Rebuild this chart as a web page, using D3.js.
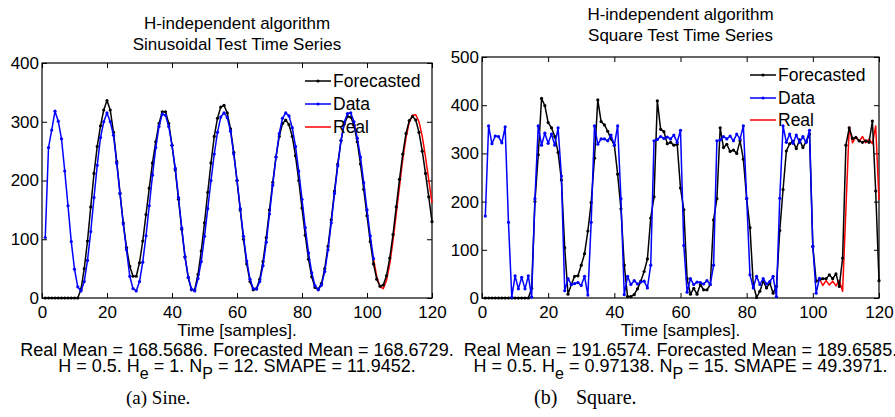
<!DOCTYPE html>
<html>
<head>
<meta charset="utf-8">
<script src="https://cdn.jsdelivr.net/npm/d3@7"></script>
<style>
  body { margin: 0; background: #fff; }
  svg text { font-family: "Liberation Sans", Arial, Helvetica, sans-serif; fill: #000; }
  .caption { font-family: "Liberation Serif", "Times New Roman", serif; }
</style>
</head>
<body>
<svg id="viz" width="895" height="417"></svg>
<script>
// tick labels
var xTickValues = [0, 20, 40, 60, 80, 100, 120];
var sineYTicks = [0, 100, 200, 300, 400];
var squareYTicks = [0, 100, 200, 300, 400, 500];
var legendLabels = ["Forecasted", "Data", "Real"];

// sine panel, samples 1..120 (data 1..102, real 102..120)
var sineDataStart = 1;
var sineData = [
  103, 256, 286, 318, 301, 271, 216, 157, 96, 49,
  19, 12, 28, 64, 113, 171, 226, 273, 300, 315,
  300, 277, 229, 178, 126, 82, 37, 16, 12, 28,
  61, 106, 157, 209, 256, 292, 313, 311, 292, 260,
  221, 171, 119, 70, 35, 15, 12, 33, 62, 105,
  152, 200, 245, 282, 308, 315, 307, 284, 245, 200,
  152, 105, 63, 32, 16, 15, 28, 55, 95, 143,
  192, 240, 280, 306, 315, 310, 290, 258, 216, 168,
  120, 77, 43, 21, 14, 22, 45, 82, 128, 178,
  225, 268, 299, 314, 315, 300, 272, 240, 196, 150,
  106, 67
];
var sineRealStart = 102;
var sineReal = [
  67, 36, 19, 16, 30, 58, 97, 143, 190, 236,
  273, 299, 311, 312, 300, 275, 240, 201, 162
];
var sineForecastStart = 1;
var sineForecast = [
  0, 0, 0, 0, 0, 0, 0, 0, 0, 0,
  0, 15, 50, 97, 155, 212, 258, 293, 320, 336,
  320, 282, 232, 178, 128, 86, 54, 37, 37, 60,
  97, 142, 187, 230, 266, 297, 317, 317, 297, 260,
  218, 168, 117, 70, 35, 14, 14, 40, 80, 128,
  180, 230, 275, 306, 325, 328, 315, 288, 248, 200,
  150, 100, 58, 28, 14, 16, 32, 62, 103, 150,
  197, 240, 275, 297, 303, 295, 275, 242, 200, 153,
  107, 66, 36, 18, 15, 25, 50, 88, 133, 182,
  228, 268, 296, 309, 308, 294, 266, 228, 185, 140,
  96, 58, 32, 20, 22, 38, 68, 108, 155, 202,
  245, 280, 302, 309, 303, 282, 250, 212, 172, 130
];

// square panel
var squareDataStart = 1;
var squareData = [
  170, 357, 320, 336, 335, 322, 355, 157, 2, 46,
  19, 43, 19, 46, 2, 206, 357, 317, 342, 321,
  340, 317, 353, 253, 15, 40, 28, 30, 32, 26,
  45, 6, 157, 357, 319, 330, 330, 326, 338, 317,
  357, 206, 7, 45, 28, 36, 29, 33, 35, 21,
  68, 326, 329, 335, 331, 334, 330, 338, 323, 348,
  109, 12, 40, 28, 33, 32, 29, 36, 28, 68,
  326, 328, 335, 330, 336, 326, 340, 330, 357, 207,
  48, 21, 45, 28, 40, 29, 34, 45, 3, 207,
  357, 323, 340, 321, 338, 323, 335, 323, 348, 107,
  10, 41
];
var squareRealStart = 102;
var squareReal = [
  41, 26, 36, 27, 35, 25, 37, 14, 185, 355,
  322, 335, 325, 335, 322, 330, 320, 357, 204
];
var squareForecastStart = 1;
var squareForecast = [
  0, 0, 0, 0, 0, 0, 0, 0, 0, 0,
  0, 0, 0, 0, 20, 200, 297, 414, 399, 364,
  353, 335, 302, 245, 104, 8, 28, 45, 46, 68,
  92, 139, 198, 290, 411, 366, 359, 346, 330, 317,
  257, 185, 68, 3, 3, 7, 19, 35, 55, 81,
  166, 210, 409, 350, 345, 320, 323, 317, 319, 228,
  183, 40, 8, 20, 8, 28, 17, 17, 28, 162,
  206, 353, 312, 319, 304, 307, 300, 326, 288, 206,
  146, 28, 1, 14, 35, 21, 31, 10, 24, 140,
  225, 305, 320, 325, 310, 328, 312, 325, 340, 107,
  35, 38, 40, 40, 48, 40, 50, 24, 83, 317,
  353, 331, 333, 326, 323, 326, 323, 367, 222, 36
];

var svg = d3.select("#viz");

function drawPanel(p) {
  var x = d3.scaleLinear().domain([0, 120]).range([p.left, p.right]);
  var y = d3.scaleLinear().domain([0, p.yMax]).range([p.bottom, p.top]);
  var g = svg.append("g");

  // titles
  p.titles.forEach(function (t, i) {
    g.append("text")
      .attr("x", (p.left + p.right) / 2)
      .attr("y", p.titleY[i])
      .attr("text-anchor", "middle")
      .attr("font-size", 17)
      .text(t);
  });

  // box
  g.append("rect")
    .attr("x", p.left).attr("y", p.top)
    .attr("width", p.right - p.left).attr("height", p.bottom - p.top)
    .attr("fill", "none").attr("stroke", "#000").attr("stroke-width", 1.2);

  function styleAxis(sel) {
    sel.attr("font-family", null).attr("font-size", 17);
    sel.select(".domain").remove();
    sel.selectAll(".tick line").attr("stroke", "#000");
    sel.selectAll(".tick text").attr("fill", "#000");
  }

  g.append("g")
    .attr("transform", "translate(0," + p.bottom + ")")
    .call(d3.axisBottom(x).tickValues(xTickValues).tickSizeInner(-5).tickSizeOuter(0).tickPadding(8))
    .call(styleAxis);
  g.append("g")
    .attr("transform", "translate(0," + p.top + ")")
    .call(d3.axisTop(x).tickValues(xTickValues).tickSizeInner(-5).tickSizeOuter(0).tickFormat(function () { return ""; }))
    .call(styleAxis);
  g.append("g")
    .attr("transform", "translate(" + p.left + ",0)")
    .call(d3.axisLeft(y).tickValues(p.yTicks).tickSizeInner(-5).tickSizeOuter(0).tickPadding(3))
    .call(styleAxis);
  g.append("g")
    .attr("transform", "translate(" + p.right + ",0)")
    .call(d3.axisRight(y).tickValues(p.yTicks).tickSizeInner(-5).tickSizeOuter(0).tickFormat(function () { return ""; }))
    .call(styleAxis);

  // series
  function series(values, start, color, markers) {
    var line = d3.line()
      .x(function (d, i) { return x(start + i); })
      .y(function (d) { return y(d); });
    g.append("path")
      .datum(values)
      .attr("fill", "none")
      .attr("stroke", color)
      .attr("stroke-width", 1.5)
      .attr("stroke-linejoin", "round")
      .attr("d", line);
    if (markers) {
      g.append("g").selectAll("circle")
        .data(values)
        .enter()
        .append("circle")
        .attr("cx", function (d, i) { return x(start + i); })
        .attr("cy", function (d) { return y(d); })
        .attr("r", 1.6)
        .attr("fill", color);
    }
  }
  series(p.real, p.realStart, "#ff0000", false);
  series(p.forecast, p.forecastStart, "#000000", true);
  series(p.data, p.dataStart, "#0000ff", true);

  // legend
  var colors = ["#000000", "#0000ff", "#ff0000"];
  legendLabels.forEach(function (label, i) {
    var ly = p.legendY[i];
    g.append("line")
      .attr("x1", p.legendX).attr("x2", p.legendX + 26)
      .attr("y1", ly).attr("y2", ly)
      .attr("stroke", colors[i]).attr("stroke-width", 1.5);
    if (i < 2) {
      g.append("circle")
        .attr("cx", p.legendX + 13).attr("cy", ly)
        .attr("r", 1.6).attr("fill", colors[i]);
    }
    g.append("text")
      .attr("x", p.legendX + 28)
      .attr("y", ly)
      .attr("dy", "0.36em")
      .attr("font-size", 17.5)
      .text(label);
  });

  // x label and stats
  var cx = (p.left + p.right) / 2;
  g.append("text")
    .attr("x", cx).attr("y", 336)
    .attr("text-anchor", "middle").attr("font-size", 17)
    .text("Time [samples].");
  g.append("text")
    .attr("x", cx).attr("y", 356)
    .attr("text-anchor", "middle").attr("font-size", 18)
    .text(p.statsLine);

  var t = g.append("text")
    .attr("x", cx).attr("y", 372)
    .attr("text-anchor", "middle").attr("font-size", 18);
  p.statsParts.forEach(function (part) {
    var ts = t.append("tspan").text(part.text);
    if (part.sub) ts.attr("dy", 7).attr("font-size", 16);
    else if (part.after) ts.attr("dy", -7);
  });

  var cap = g.append("text")
    .attr("class", "caption")
    .attr("y", 404)
    .attr("font-size", p.captionSize);
  p.caption.forEach(function (c) {
    cap.append("tspan").attr("x", c.x).text(c.text);
  });
}

drawPanel({
  left: 42, right: 432, top: 63, bottom: 298,
  yMax: 400, yTicks: sineYTicks,
  titles: ["H-independent algorithm", "Sinusoidal Test Time Series"],
  titleY: [29, 50],
  data: sineData, dataStart: sineDataStart,
  real: sineReal, realStart: sineRealStart,
  forecast: sineForecast, forecastStart: sineForecastStart,
  legendX: 305, legendY: [81, 104, 127],
  statsLine: "Real Mean = 168.5686. Forecasted Mean = 168.6729.",
  statsParts: [
    { text: "H = 0.5. H" }, { text: "e", sub: true },
    { text: " = 1. N", after: true }, { text: "P", sub: true },
    { text: " = 12. SMAPE = 11.9452.", after: true }
  ],
  caption: [{ text: "(a) Sine.", x: 126 }], captionSize: 19
});

drawPanel({
  left: 482, right: 879, top: 57, bottom: 298,
  yMax: 500, yTicks: squareYTicks,
  titles: ["H-independent algorithm", "Square Test Time Series"],
  titleY: [20, 41],
  data: squareData, dataStart: squareDataStart,
  real: squareReal, realStart: squareRealStart,
  forecast: squareForecast, forecastStart: squareForecastStart,
  legendX: 750, legendY: [75, 98, 120],
  statsLine: "Real Mean = 191.6574. Forecasted Mean = 189.6585.",
  statsParts: [
    { text: "H = 0.5. H" }, { text: "e", sub: true },
    { text: " = 0.97138. N", after: true }, { text: "P", sub: true },
    { text: " = 15. SMAPE = 49.3971.", after: true }
  ],
  caption: [{ text: "(b)", x: 534 }, { text: "Square.", x: 576 }], captionSize: 20
});
</script>
</body>
</html>
